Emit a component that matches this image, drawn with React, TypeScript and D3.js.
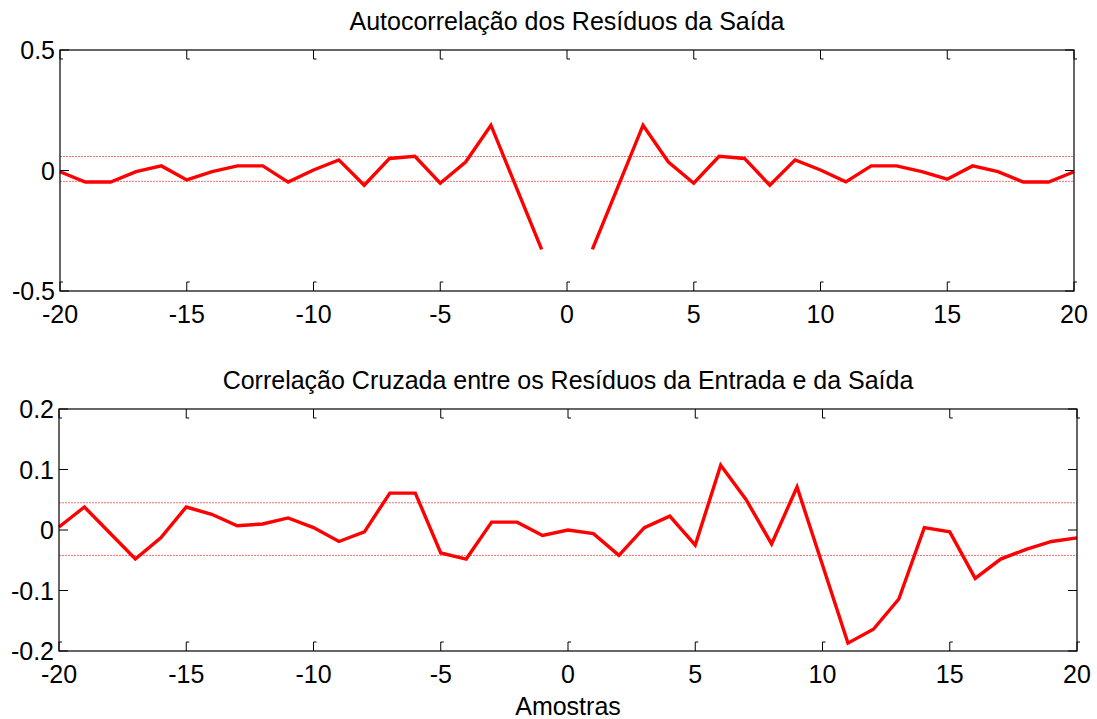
import React from "react";
import * as d3 from "d3";

const lags: number[] = d3.range(-20, 21);

// Autocorrelation of output residuals (lag 0 omitted)
const autoCorr: (number | null)[] = [
  -0.005, -0.048, -0.048, -0.005, 0.019, -0.039, -0.005, 0.019, 0.019, -0.048,
  0.002, 0.044, -0.061, 0.05, 0.059, -0.053, 0.035, 0.188, -0.07, -0.327,
  null,
  -0.327, -0.07, 0.188, 0.035, -0.053, 0.059, 0.05, -0.061, 0.044, 0.002,
  -0.047, 0.019, 0.019, -0.005, -0.036, 0.019, -0.005, -0.048, -0.048, -0.005,
];

// Cross-correlation between input and output residuals
const crossCorr: number[] = [
  0.005, 0.038, -0.005, -0.048, -0.013, 0.038, 0.026, 0.007, 0.01, 0.02,
  0.004, -0.019, -0.003, 0.061, 0.061, -0.038, -0.048, 0.013, 0.013, -0.009,
  0.0,
  -0.006, -0.042, 0.004, 0.023, -0.025, 0.107, 0.05, -0.023, 0.071, -0.058,
  -0.187, -0.164, -0.114, 0.004, -0.003, -0.08, -0.048, -0.032, -0.019, -0.013,
];

const autoBounds: number[] = [0.058, -0.045];
const crossBounds: number[] = [0.045, -0.042];

const xTicks: number[] = [-20, -15, -10, -5, 0, 5, 10, 15, 20];
const autoYTicks: number[] = [-0.5, 0, 0.5];
const crossYTicks: number[] = [-0.2, -0.1, 0, 0.1, 0.2];

const titles: string[] = [
  "Autocorrelação dos Resíduos da Saída",
  "Correlação Cruzada entre os Resíduos da Entrada e da Saída",
];
const xLabel = "Amostras";

const FONT = "'Liberation Sans', Arial, Helvetica, sans-serif";
const FS = 25;

type PanelProps = {
  left: number;
  right: number;
  top: number;
  bottom: number;
  yDomain: [number, number];
  yTicks: number[];
  values: (number | null)[];
  bounds: number[];
  title: string;
};

function fmt(v: number): string {
  if (v === 0) return "0";
  return String(v);
}

function Panel({ left, right, top, bottom, yDomain, yTicks, values, bounds, title }: PanelProps) {
  const x = d3.scaleLinear().domain([-20, 20]).range([left, right]);
  const y = d3.scaleLinear().domain(yDomain).range([bottom, top]);
  const line = d3
    .line<number>()
    .defined((_, i) => values[i] !== null)
    .x((_, i) => x(lags[i]))
    .y((_, i) => y(values[i] as number));
  const tl = 9;
  return (
    <g>
      <text x={(left + right) / 2} y={top - 20} textAnchor="middle" fontFamily={FONT} fontSize={FS} fill="#000">
        {title}
      </text>
      {bounds.map((b, i) => (
        <line
          key={"b" + i}
          x1={left}
          x2={right}
          y1={y(b)}
          y2={y(b)}
          stroke="#f07070"
          strokeWidth={1}
          strokeDasharray="2 1"
        />
      ))}
      <path d={line(lags) || ""} fill="none" stroke="#ff0000" strokeWidth={3.4} strokeLinejoin="miter" />
      <rect x={left} y={top} width={right - left} height={bottom - top} fill="none" stroke="#000" strokeWidth={1.2} />
      {xTicks.map((t) => (
        <g key={"xt" + t}>
          <path d={`M${x(t)},${bottom} v${-tl} h3`} fill="none" stroke="#000" strokeWidth={1} />
          <path d={`M${x(t)},${top} v${tl} h3`} fill="none" stroke="#000" strokeWidth={1} />
          <text x={x(t)} y={bottom + 32} textAnchor="middle" fontFamily={FONT} fontSize={FS} fill="#000">
            {fmt(t)}
          </text>
        </g>
      ))}
      {yTicks.map((t) => (
        <g key={"yt" + t}>
          <path d={`M${left},${y(t)} h${tl}`} fill="none" stroke="#000" strokeWidth={1} />
          <path d={`M${right},${y(t)} h${-tl}`} fill="none" stroke="#000" strokeWidth={1} />
          <text
            x={left - 5}
            y={y(t)}
            dy="0.36em"
            textAnchor="end"
            fontFamily={FONT}
            fontSize={FS}
            fill="#000"
          >
            {fmt(t)}
          </text>
        </g>
      ))}
    </g>
  );
}

export default function App() {
  return (
    <svg
      width={1097}
      height={719}
      style={{ position: "absolute", left: 0, top: 0, background: "#fff", display: "block" }}
    >
      <rect x={0} y={0} width={1097} height={719} fill="#fff" />
      <Panel
        left={60}
        right={1074}
        top={50}
        bottom={291}
        yDomain={[-0.5, 0.5]}
        yTicks={autoYTicks}
        values={autoCorr}
        bounds={autoBounds}
        title={titles[0]}
      />
      <Panel
        left={59}
        right={1077}
        top={409}
        bottom={651}
        yDomain={[-0.2, 0.2]}
        yTicks={crossYTicks}
        values={crossCorr}
        bounds={crossBounds}
        title={titles[1]}
      />
      <text x={568} y={715} textAnchor="middle" fontFamily={FONT} fontSize={FS} fill="#000">
        {xLabel}
      </text>
    </svg>
  );
}
